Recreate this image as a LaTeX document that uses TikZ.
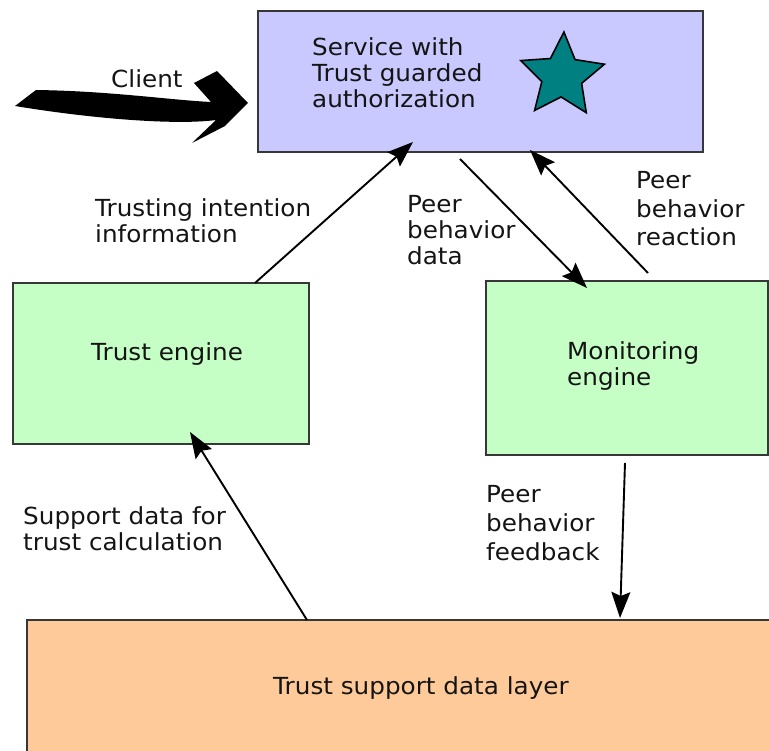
\documentclass[tikz,border=0pt]{standalone}
\usepackage{fontspec}
\setmainfont{DejaVu Sans}[FakeStretch=1.05]
\usetikzlibrary{arrows.meta,shapes.geometric,calc}
\definecolor{svcfill}{RGB}{201,201,255}
\definecolor{engfill}{RGB}{198,255,198}
\definecolor{layerfill}{RGB}{255,202,153}
\definecolor{starfill}{RGB}{0,128,128}
\definecolor{boxline}{RGB}{55,55,55}
\definecolor{txt}{RGB}{20,20,20}
\begin{document}
\begin{tikzpicture}[x=1pt,y=-1pt,
  box/.style={draw=boxline, line width=1.5pt, inner sep=0, outer sep=0},
  % multi-line labels are placed by the baseline of their last line
  lbl/.style={inner sep=0, anchor=base west, align=left, text=txt,
              font=\fontsize{23.5}{26}\selectfont},
  flow/.style={-{Stealth[length=26pt,width=19pt,inset=4pt]}, line width=1.9pt}
]
\useasboundingbox (0,0) rectangle (769,751);

% boxes
\node[box, fill=svcfill, minimum width=445pt, minimum height=141pt] (svc) at (480.5,81.5) {};
\node[box, fill=engfill, minimum width=296pt, minimum height=161pt] (te) at (161,363.5) {};
\node[box, fill=engfill, minimum width=282pt, minimum height=174pt] (mon) at (627,368) {};
\node[box, fill=layerfill, minimum width=788pt, minimum height=136pt,
      font=\fontsize{23.5}{26}\selectfont, text=txt] (layer) at (421,688) {Trust support data layer};

% star inside the service box
\node[star, star points=5, star point ratio=2.1, minimum size=88pt, inner sep=0,
      fill=starfill, draw=black, line width=1.6pt, rotate=-2.5] (star) at (562,76) {};

% box texts
\node[lbl] (svctext) at (312,108) {Service with\\Trust guarded\\authorization};
\node[lbl] (tetext) at (91,361) {Trust engine};
\node[lbl] (montext) at (567,386) {Monitoring\\engine};

% client arrow
\fill[black] (15,106) -- (36,90) .. controls (110,91) and (170,100) .. (211,102)
  -- (194,83) -- (217,71) -- (248,103) -- (225,126) -- (192,143) -- (216,120)
  .. controls (180,125) and (100,120) .. (15,106) -- cycle;
\node[lbl] (client) at (111,88) {Client};

% connectors
\draw[flow] ([xshift=94pt]te.north) -- ([xshift=-67.5pt,yshift=10pt]svc.south);
\draw[flow] ([xshift=-20.5pt,yshift=-7pt]svc.south) -- ([xshift=-40pt,yshift=-7pt]mon.north);
\draw[flow] ([xshift=21pt,yshift=8pt]mon.north) -- ([xshift=49.5pt,yshift=2pt]svc.south);
\draw[flow] ([xshift=-2pt,yshift=-8pt]mon.south) -- ([xshift=593pt,yshift=2pt]layer.north west);
\draw[flow] ([xshift=280pt]layer.north west) -- ([xshift=29pt,yshift=12pt]te.south);

% connector labels
\node[lbl] (l1) at (95,243) {Trusting intention\\information};
\node[lbl] (l2) at (407,265) {Peer\\behavior\\data};
\node[lbl, font=\fontsize{23.5}{28.5}\selectfont] (l3) at (636,246) {Peer\\behavior\\reaction};
\node[lbl] (l4) at (23,550) {Support data for\\trust calculation};
\node[lbl, font=\fontsize{23.5}{29}\selectfont] (l5) at (486,560) {Peer\\behavior\\feedback};
\end{tikzpicture}
\end{document}
